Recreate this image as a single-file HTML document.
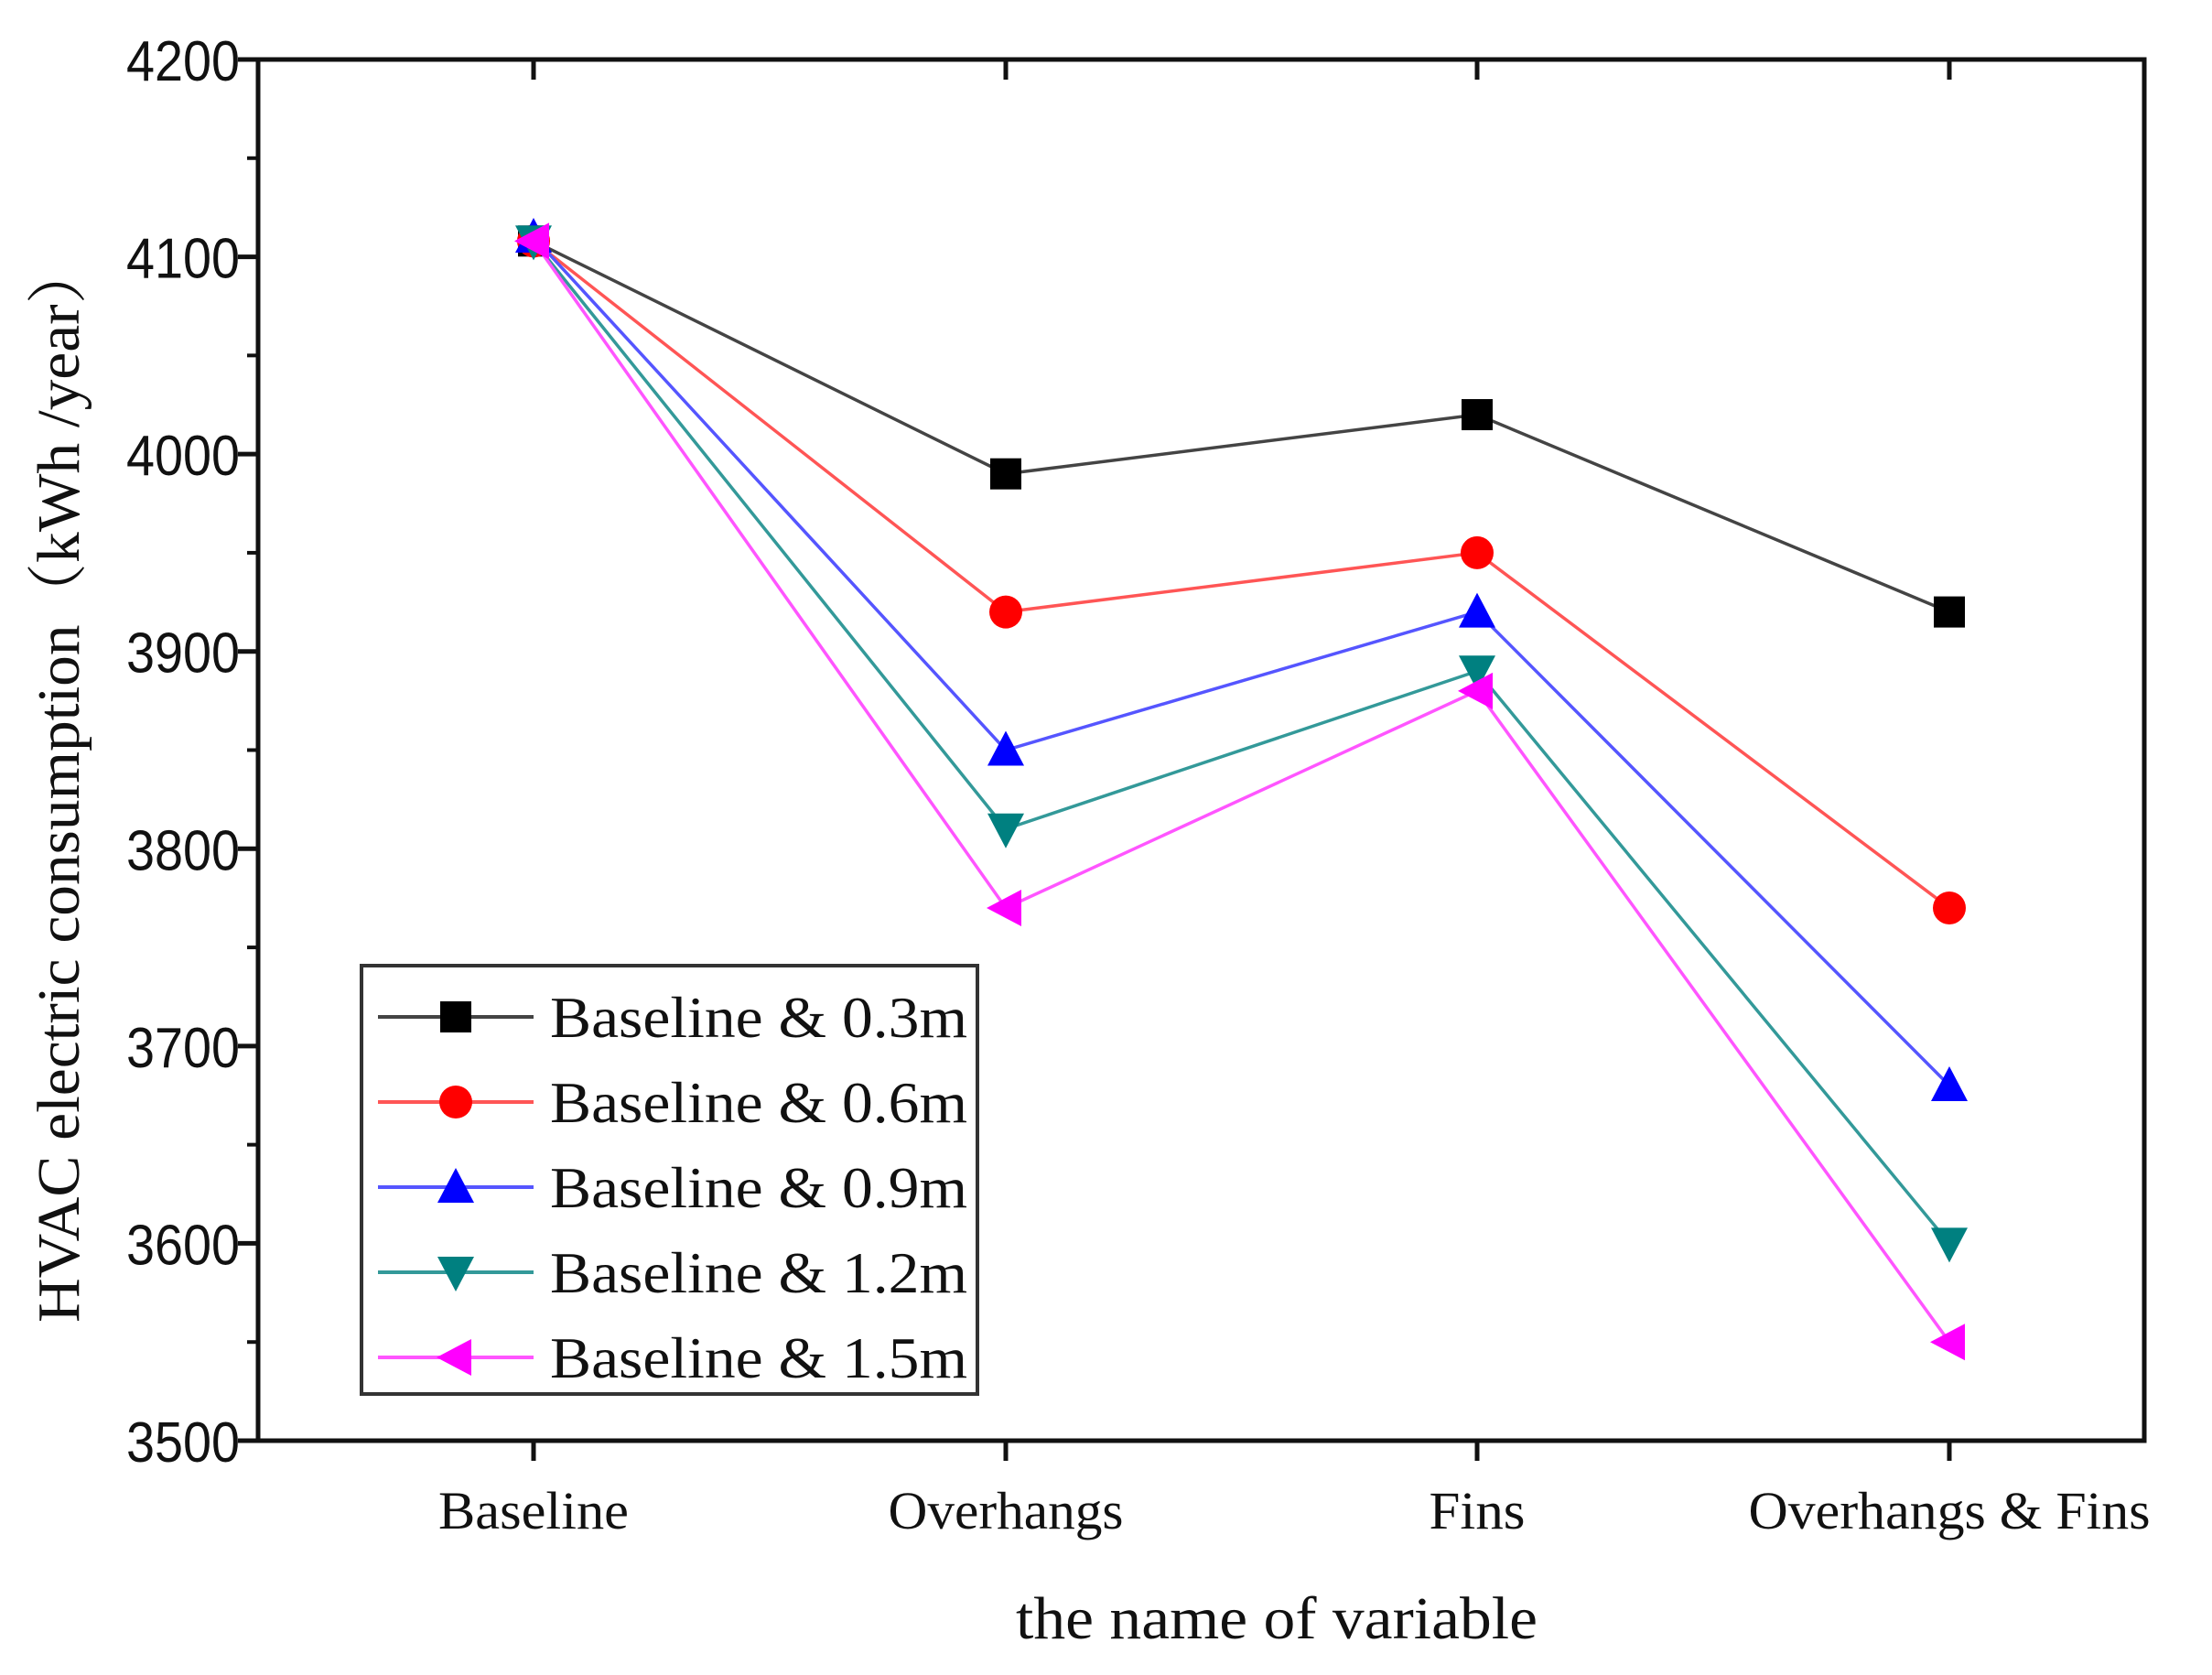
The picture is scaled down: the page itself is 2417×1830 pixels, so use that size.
<!DOCTYPE html>
<html><head><meta charset="utf-8"><style>
html,body{margin:0;padding:0;background:#fff;}
svg{display:block;}
.ser{font-family:"Liberation Serif","Noto Serif CJK SC",serif;}
.san{font-family:"Liberation Sans",sans-serif;}
</style></head><body>
<svg id="chart" width="2417" height="1830" viewBox="0 0 2417 1830" xmlns="http://www.w3.org/2000/svg">
<g id="grid"></g>
<g id="marks"></g>
<g id="legend"></g>
<text class="ser" x="1395" y="1790" font-size="66" text-anchor="middle" fill="#111" textLength="570" lengthAdjust="spacingAndGlyphs">the name of variable</text>
<text class="ser" x="0" y="0" font-size="66" text-anchor="middle" fill="#111" textLength="1180" lengthAdjust="spacingAndGlyphs" transform="translate(86,855) rotate(-90)">HVAC electric consumption（kWh /year）</text>
</svg>
<script>
const categories = ["Baseline","Overhangs","Fins","Overhangs & Fins"];
const seriesNames = ["Baseline & 0.3m","Baseline & 0.6m","Baseline & 0.9m","Baseline & 1.2m","Baseline & 1.5m"];
const s03 = [4108, 3990, 4020, 3920];
const s06 = [4108, 3920, 3950, 3770];
const s09 = [4110, 3850, 3920, 3680];
const s12 = [4108, 3810, 3890, 3600];
const s15 = [4108, 3770, 3880, 3550];
const yTicks = [3500, 3600, 3700, 3800, 3900, 4000, 4100, 4200];

const NS = "http://www.w3.org/2000/svg";
const L = 282, R = 2343, T = 65, B = 1574;
const yMin = 3500, yMax = 4200;
const xPos = [583, 1099, 1614, 2130];
const xLabelLen = [208, 257, 105, 439];
function xs(i){ return L + (xPos[i] - L); }
function ys(v){ return B - (v - yMin) / (yMax - yMin) * (B - T); }
function mk(tag, attrs, parent){ const e = document.createElementNS(NS, tag); for (const k in attrs) e.setAttribute(k, attrs[k]); parent.appendChild(e); return e; }

const grid = document.getElementById('grid');
const frame = mk('rect', {x:L, y:T, width:R-L, height:B-T, fill:'none', stroke:'#111', 'stroke-width':5}, grid);


yTicks.forEach((v, i) => {
  const y = ys(v);
  const t = mk('line', {x1:L-22, x2:L, y1:y, y2:y, stroke:'#111', 'stroke-width':5}, grid);
  
  
  if (i < yTicks.length - 1) {
    const ym = ys(v + 50);
    const m = mk('line', {x1:L-12, x2:L, y1:ym, y2:ym, stroke:'#111', 'stroke-width':4}, grid);
    
    
  }
  const lb = mk('text', {x:262, y:y+23, 'font-size':62, 'text-anchor':'end', fill:'#111', class:'san', textLength:124, lengthAdjust:'spacingAndGlyphs'}, grid);
  lb.textContent = v;
  
  
});
categories.forEach((c, i) => {
  const x = xs(i);
  const t = mk('line', {x1:x, x2:x, y1:B, y2:B+22, stroke:'#111', 'stroke-width':5}, grid);
  
  
  const t2 = mk('line', {x1:x, x2:x, y1:T, y2:T+22, stroke:'#111', 'stroke-width':5}, grid);
  
  
  const lb = mk('text', {x:x, y:1670, 'font-size':58, 'text-anchor':'middle', fill:'#111', class:'ser', textLength:xLabelLen[i], lengthAdjust:'spacingAndGlyphs'}, grid);
  lb.textContent = c;
  
  
});

const data = [s03, s06, s09, s12, s15];
const colors = ['#000000','#ff0000','#0000ff','#008080','#ff00ff'];
const lineCols = ['#444','#ff5555','#5555ff','#339999','#ff55ff'];
const shapes = ['square','circle','up','down','left'];
function marker(shape, x, y, col, parent){
  const s = 17;
  let e;
  if (shape === 'square') e = mk('rect', {x:x-s, y:y-s, width:2*s, height:2*s, fill:col}, parent);
  else if (shape === 'circle') e = mk('circle', {cx:x, cy:y, r:s+1, fill:col}, parent);
  else if (shape === 'up') e = mk('polygon', {points:`${x},${y-s-4} ${x-s-3},${y+s} ${x+s+3},${y+s}`, fill:col}, parent);
  else if (shape === 'down') e = mk('polygon', {points:`${x},${y+s+4} ${x-s-3},${y-s} ${x+s+3},${y-s}`, fill:col}, parent);
  else e = mk('polygon', {points:`${x-s-4},${y} ${x+s},${y-s-3} ${x+s},${y+s+3}`, fill:col}, parent);
  return e;
}
const marks = document.getElementById('marks');
data.forEach((arr, si) => {
  const g = mk('g', {}, marks);
  
  
  const pts = arr.map((v, i) => xs(i) + ',' + ys(v)).join(' ');
  const pl = mk('polyline', {points:pts, fill:'none', stroke:lineCols[si], 'stroke-width':3.5}, g);
  
  
  arr.forEach((v, i) => {
    const m = marker(shapes[si], xs(i), ys(v), colors[si], g);
    
    
  });
});

const leg = document.getElementById('legend');
const box = mk('rect', {x:395, y:1055, width:673, height:468, fill:'#fff', stroke:'#333', 'stroke-width':4}, leg);


seriesNames.forEach((n, i) => {
  const y = 1111 + i * 93;
  const g = mk('g', {}, leg);
  
  
  mk('line', {x1:413, x2:583, y1:y, y2:y, stroke:lineCols[i], 'stroke-width':4}, g);
  marker(shapes[i], 498, y, colors[i], g);
  const t = mk('text', {x:601, y:y+22, 'font-size':64, fill:'#111', class:'ser', textLength:456, lengthAdjust:'spacingAndGlyphs'}, g);
  t.textContent = n;
});
</script>
</body></html>
